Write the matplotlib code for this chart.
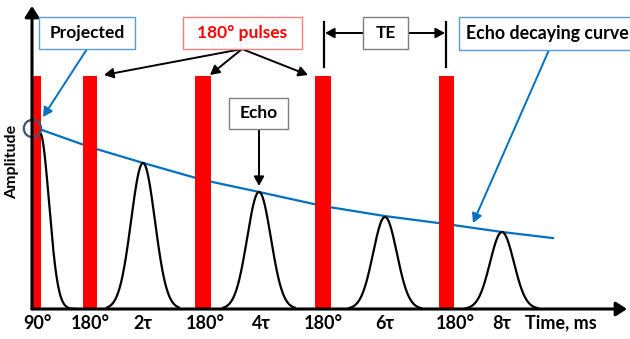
import numpy as np
import matplotlib.pyplot as plt
from matplotlib.patches import Rectangle

plt.rcParams['font.family'] = ['Lato', 'DejaVu Sans']
plt.rcParams['font.weight'] = 'bold'

W, H = 630, 339

# RF pulses: centre time (tau units), width, height (relative to FID peak)
pulse_t = [0.078, 1.0, 2.95, 5.017, 7.147]
pulse_w = [0.155, 0.24, 0.276, 0.276, 0.26]
pulse_h = 1.324

# FID after the 90 deg pulse
fid_t0 = 0.138
fid_amp = 1.0
fid_sigma = 0.155
proj_t, proj_amp = 0.0, 1.028

# spin echoes
echo_t = [1.914, 3.914, 6.086, 8.103]
echo_amp = [0.83, 0.665, 0.523, 0.4375]
echo_sigma = 0.205

# echo decaying curve
decay_t = [0.172, 1.0, 1.914, 2.948, 3.914, 5.017, 6.086, 7.138, 8.103, 8.983]
decay_amp = [1.017, 0.920, 0.830, 0.733, 0.665, 0.585, 0.528, 0.483, 0.4375, 0.403]

tick_pos = [0.10, 1.0, 1.91, 2.98, 3.95, 5.03, 6.09, 7.29, 8.10, 9.11]
tick_labels = ['90°', '180°', '2τ', '180°', '4τ', '180°', '6τ', '180°', '8τ', 'Time, ms']

fig = plt.figure(figsize=(W / 100, H / 100), dpi=100)
ax = fig.add_axes([32 / W, 30 / H, 595 / W, 303 / H])
ax.set_xlim(0, 595 / 58)
ax.set_ylim(0, 303 / 176)

# decay curve behind the pulses
ax.plot(decay_t, decay_amp, color='#0070C0', lw=1.6, zorder=1)
ax.bar(pulse_t, pulse_h, width=pulse_w, color='#FF0000', zorder=2)

# FID
t = np.linspace(fid_t0, fid_t0 + 0.6, 200)
ax.plot(t, fid_amp * np.exp(-(t - fid_t0) ** 2 / (2 * fid_sigma ** 2)),
        color='black', lw=1.6, zorder=3)

# echoes
for c, a in zip(echo_t, echo_amp):
    t = np.linspace(c - 0.62, c + 0.62, 200)
    ax.plot(t, a * np.exp(-(t - c) ** 2 / (2 * echo_sigma ** 2)),
            color='black', lw=1.6, zorder=3)

ax.plot(proj_t, proj_amp, 'o', ms=12.5, mfc='none', mec='#44546A', mew=1.6,
        clip_on=False, zorder=5)

for s in ax.spines.values():
    s.set_visible(False)
ax.set_yticks([])
ax.set_xticks(tick_pos, tick_labels)
ax.tick_params(axis='x', length=0, pad=4, labelsize=13)

# axes with arrow heads
axis_arrow = dict(arrowstyle='-|>,head_length=0.65,head_width=0.42', lw=2.2,
                  color='black', shrinkA=0, shrinkB=0, mutation_scale=10)
ax.annotate('', xy=(1, 0), xytext=(0, 0), xycoords='axes fraction',
            arrowprops=axis_arrow, zorder=6)
ax.annotate('', xy=(0, 1), xytext=(0, 0), xycoords='axes fraction',
            arrowprops=axis_arrow, zorder=6)

fig.text(12 / W, 1 - 162 / H, 'Amplitude', rotation=90, ha='center',
         va='center', fontsize=11.5)


def label_box(x0, y0, x1, y1, text, edge, color='black', size=12.5):
    fig.add_artist(Rectangle((x0 / W, 1 - y1 / H), (x1 - x0) / W, (y1 - y0) / H,
                             transform=fig.transFigure, facecolor='white',
                             edgecolor=edge, lw=1.0, zorder=7))
    fig.text((x0 + x1) / 2 / W, 1 - (y0 + y1) / 2 / H, text, ha='center',
             va='center', color=color, fontsize=size, zorder=8)


def arrow(x0, y0, x1, y1, color='black'):
    ax.annotate('', xy=(x1, H - y1), xytext=(x0, H - y0), xycoords='figure pixels',
                arrowprops=dict(arrowstyle='-|>,head_length=0.55,head_width=0.3',
                                lw=1.4, color=color, shrinkA=0, shrinkB=0,
                                mutation_scale=10))


label_box(39, 17, 135, 49, 'Projected', '#5B9BD5')
label_box(183, 17, 302, 49, '180° pulses', '#FF7C80', color='#FF0000')
label_box(363, 17, 408, 49, 'TE', '#7F7F7F')
label_box(229, 98, 288, 129, 'Echo', '#7F7F7F')
fig.add_artist(Rectangle((459 / W, 1 - 50 / H), 200 / W, 33 / H,
                         transform=fig.transFigure, facecolor='white',
                         edgecolor='#5B9BD5', lw=1.0, zorder=7))
fig.text(466 / W, 1 - 33.5 / H, 'Echo decaying curve', ha='left', va='center',
         fontsize=12.8, zorder=8)

arrow(87, 49, 43, 117, color='#0070C0')
for x in [104, 210, 308]:
    arrow(242, 49, x, 75)
arrow(259, 129, 259, 186)
arrow(549, 50, 473, 223, color='#0070C0')

# TE markers
for x in [324, 446]:
    ax.plot([x / W, x / W], [1 - 22 / H, 1 - 67 / H], color='black', lw=1.6,
            transform=fig.transFigure, clip_on=False)
arrow(363, 33, 325, 33)
arrow(408, 33, 445, 33)

fig.savefig('out.png', dpi=100)
